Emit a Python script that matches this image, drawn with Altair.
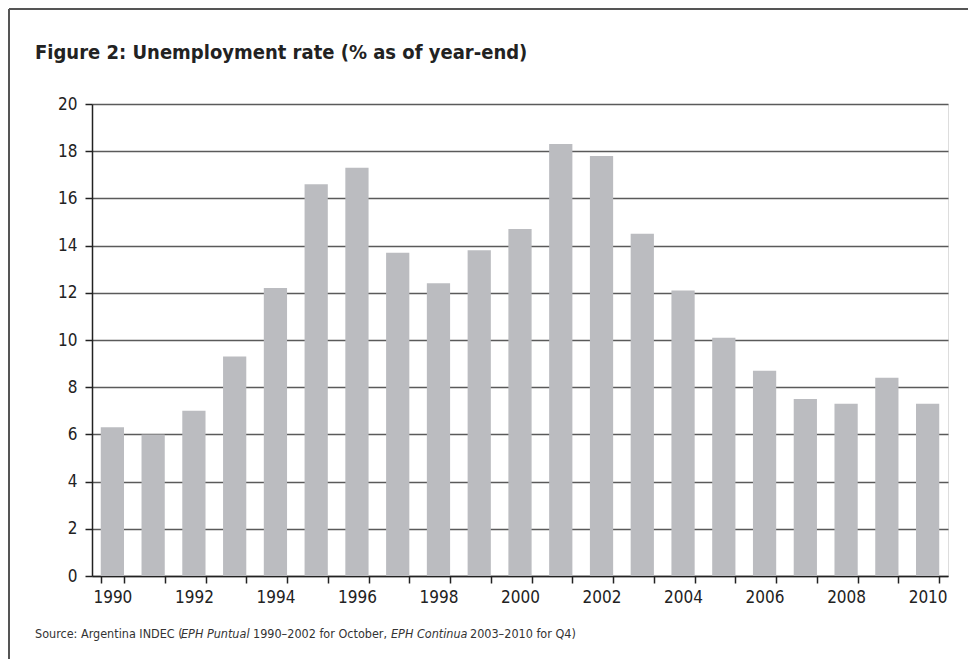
import altair as alt
import pandas as pd

years = list(range(1990, 2011))
rates = [6.3, 6.0, 7.0, 9.3, 12.2, 16.6, 17.3, 13.7, 12.4, 13.8, 14.7,
         18.3, 17.8, 14.5, 12.1, 10.1, 8.7, 7.5, 7.3, 8.4, 7.3]
y_ticks = [0, 2, 4, 6, 8, 10, 12, 14, 16, 18, 20]

title_text = "Figure 2: Unemployment rate (% as of year-end)"
source_parts = [
    ("Source: Argentina INDEC (", "normal", -57),
    ("EPH Puntual", "italic", 89),
    (" 1990\u20132002 for October, ", "normal", 161),
    ("EPH Continua", "italic", 299),
    (" 2003\u20132010 for Q4)", "normal", 378),
]

FONT = "DejaVu Sans Condensed, DejaVu Sans, sans-serif"

df = pd.DataFrame({"year": years, "rate": rates})

W, H = 856, 472

bars = alt.Chart(df).mark_bar(color="#bbbcc0").encode(
    x=alt.X("year:O",
            scale=alt.Scale(paddingInner=0.43, paddingOuter=0.215),
            axis=alt.Axis(title=None, labelAngle=0, tickBand="extent",
                          labelExpr="datum.value % 2 == 0 ? datum.label : ''",
                          labelFont=FONT, labelFontSize=17, labelColor="#222",
                          labelPadding=6, tickSize=7, tickColor="#222",
                          tickWidth=1.5, domainColor="#222", domainWidth=1.5,
                          grid=False)),
    y=alt.Y("rate:Q",
            scale=alt.Scale(domain=[0, 20], nice=False),
            axis=alt.Axis(title=None, values=y_ticks, labelFont=FONT,
                          labelFontSize=17, labelColor="#222", labelPadding=8,
                          tickSize=7, tickColor="#222", tickWidth=1.5,
                          domainColor="#222", domainWidth=1.5,
                          grid=True, gridColor="#5a5a5a", gridWidth=1.3)),
)

one = alt.Data(values=[{"a": 1}])

title = alt.Chart(one).mark_text(
    text=title_text, font=FONT, fontSize=20, fontWeight="bold",
    color="#222", align="left", baseline="alphabetic"
).encode(x=alt.value(-57), y=alt.value(-45))

src_layers = []
for txt, style, xpos in source_parts:
    src_layers.append(
        alt.Chart(one).mark_text(
            text=txt, font=FONT, fontSize=12.5, fontStyle=style,
            color="#333", align="left", baseline="alphabetic"
        ).encode(x=alt.value(xpos), y=alt.value(534))
    )

frame_top = alt.Chart(one).mark_rule(color="#555", strokeWidth=2).encode(
    x=alt.value(-83), x2=alt.value(900), y=alt.value(-95))
frame_left = alt.Chart(one).mark_rule(color="#555", strokeWidth=2).encode(
    x=alt.value(-83), y=alt.value(-95), y2=alt.value(560))

chart = alt.layer(bars, title, *src_layers, frame_top, frame_left).properties(
    width=W, height=H,
    autosize=alt.AutoSizeParams(type="none"),
    padding={"left": 84, "top": 96, "right": 20, "bottom": 83},
).configure_view(stroke=None).configure(background="white")

chart.save("out.html", embed_options={"renderer": "svg", "actions": False})
